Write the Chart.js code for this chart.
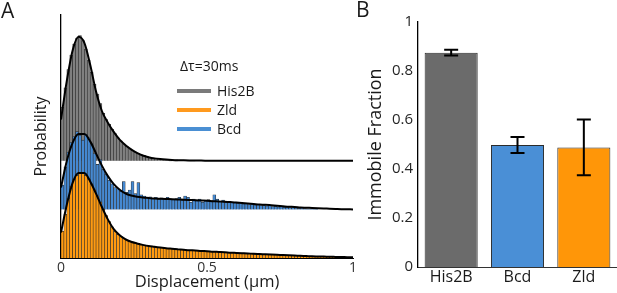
<!DOCTYPE html>
<html>
<head>
<meta charset="utf-8">
<script src="https://cdn.jsdelivr.net/npm/chart.js@4.4.0/dist/chart.umd.min.js"></script>
<style>
    body { margin: 0; width: 617px; height: 293px; overflow: hidden; background: #fff; font-family: 'Open Sans', sans-serif; color: #1a1a1a; }
    canvas { position: absolute; top: 0; }
    #chartA { left: 0; }
    #chartB { left: 330px; }
    .label { position: absolute; line-height: 1; white-space: nowrap; }
    .panel { font-size: 21px; }
    .legend-text { font-size: 14px; }
    .legend-line { position: absolute; width: 34px; height: 4px; }
</style>
</head>
<body>
<canvas id="chartA" width="365" height="293"></canvas>
<canvas id="chartB" width="287" height="293"></canvas>
<div class="label panel" style="left:1px;top:0px">A</div>
<div class="label panel" style="left:356px;top:-1px">B</div>
<div class="label legend-text" style="left:180px;top:59px">Δτ=30ms</div>
<div id="legend"></div>
<script>
// ---- panel A: displacement histograms (bin width 0.01 µm) ----
const binWidth = 0.01;
const fitStep = 0.02;
const xTicksA = [0, 0.5, 1];

const his2bHist = [
    2.2, 3.0, 3.75, 4.35, 4.8, 5.05, 5.15, 4.95, 4.6, 4.15,
    3.65, 3.15, 2.75, 2.35, 1.95, 1.7, 1.5, 1.3, 1.12, 0.95,
    0.82, 0.7, 0.6, 0.5, 0.43, 0.36, 0.3, 0.25, 0.21, 0.17,
    0.14, 0.12, 0.1, 0.085, 0.07, 0.06, 0.05, 0.045, 0.04, 0.035,
    0.03, 0.03, 0.025, 0.02, 0.02, 0.02, 0.015, 0.015, 0.01, 0.01,
    0.01, 0.01, 0.01, 0.01, 0.005, 0.005, 0, 0, 0, 0,
    0, 0, 0, 0, 0, 0, 0, 0, 0, 0,
    0, 0, 0, 0, 0, 0, 0, 0, 0, 0,
    0, 0, 0, 0, 0, 0, 0, 0, 0, 0,
    0, 0, 0, 0, 0, 0, 0, 0, 0, 0
];
const bcdHist = [
    1.0, 1.75, 2.35, 2.75, 3.0, 3.2, 3.05, 2.85, 3.1, 2.95,
    2.7, 2.3, 1.85, 2.05, 1.65, 1.45, 1.2, 1.05, 0.9, 0.85,
    0.75, 1.15, 0.7, 0.8, 1.15, 0.65, 1.1, 0.6, 0.55, 0.5,
    0.52, 0.45, 0.5, 0.42, 0.48, 0.45, 0.5, 0.43, 0.4, 0.45,
    0.5, 0.38, 0.55, 0.5, 0.3, 0.42, 0.35, 0.42, 0.3, 0.38,
    0.4, 0.36, 0.6, 0.42, 0.33, 0.38, 0.3, 0.32, 0.28, 0.3,
    0.25, 0.28, 0.22, 0.24, 0.2, 0.22, 0.18, 0.2, 0.16, 0.17,
    0.14, 0.16, 0.12, 0.13, 0.1, 0.12, 0.09, 0.1, 0.07, 0.08,
    0.06, 0.05, 0.08, 0.03, 0.02, 0.02, 0.01, 0.01, 0, 0,
    0, 0, 0, 0, 0, 0, 0, 0, 0, 0
];
const zldHist = [
    1.1, 1.8, 2.45, 2.95, 3.25, 3.4, 3.5, 3.5, 3.4, 3.25,
    3.05, 2.8, 2.55, 2.3, 2.0, 1.75, 1.5, 1.28, 1.1, 0.97,
    0.88, 0.8, 0.74, 0.69, 0.66, 0.62, 0.6, 0.56, 0.53, 0.5,
    0.48, 0.47, 0.45, 0.43, 0.42, 0.4, 0.39, 0.38, 0.37, 0.36,
    0.35, 0.34, 0.33, 0.33, 0.32, 0.31, 0.3, 0.3, 0.29, 0.28,
    0.28, 0.27, 0.26, 0.26, 0.25, 0.24, 0.24, 0.23, 0.22, 0.22,
    0.21, 0.2, 0.2, 0.19, 0.18, 0.18, 0.17, 0.16, 0.16, 0.15,
    0.15, 0.14, 0.14, 0.13, 0.13, 0.12, 0.12, 0.11, 0.11, 0.1,
    0.1, 0.09, 0.09, 0.08, 0.08, 0.07, 0.07, 0.07, 0.06, 0.06,
    0.06, 0.05, 0.05, 0.05, 0.04, 0.04, 0.04, 0.03, 0.03, 0.03
];

// fitted curves, one value every 0.02 µm from 0 to 1
const his2bFit = [
    1.7, 3.3, 4.55, 5.1, 4.85, 3.95, 2.85, 2.05, 1.58, 1.2,
    0.88, 0.65, 0.47, 0.33, 0.22, 0.15, 0.1, 0.07, 0.05, 0.035,
    0.025, 0.02, 0.015, 0.01, 0.01, 0.005, 0, 0, 0, 0,
    0, 0, 0, 0, 0, 0, 0, 0, 0, 0,
    0, 0, 0, 0, 0, 0, 0, 0, 0, 0, 0
];
const bcdFit = [
    0.9, 2.0, 2.75, 3.1, 3.1, 2.8, 2.3, 1.8, 1.38, 1.05,
    0.82, 0.66, 0.57, 0.52, 0.49, 0.47, 0.45, 0.44, 0.43, 0.42,
    0.41, 0.4, 0.39, 0.38, 0.37, 0.36, 0.34, 0.33, 0.31, 0.3,
    0.28, 0.26, 0.24, 0.22, 0.2, 0.19, 0.17, 0.15, 0.13, 0.11,
    0.1, 0.08, 0.07, 0.06, 0.05, 0.04, 0.03, 0.02, 0.01, 0.005, 0
];
const zldFit = [
    1.05, 2.2, 3.1, 3.5, 3.5, 3.15, 2.65, 2.1, 1.6, 1.2,
    0.95, 0.78, 0.67, 0.6, 0.54, 0.49, 0.46, 0.43, 0.4, 0.38,
    0.36, 0.34, 0.32, 0.31, 0.29, 0.28, 0.26, 0.25, 0.24, 0.22,
    0.21, 0.2, 0.19, 0.17, 0.16, 0.15, 0.14, 0.13, 0.12, 0.11,
    0.1, 0.09, 0.08, 0.07, 0.065, 0.06, 0.05, 0.045, 0.04, 0.035, 0.03
];

// vertical offsets of the stacked histograms
const his2bOffset = 4;
const bcdOffset = 2;
const zldOffset = 0;

const legendNames = ['His2B', 'Zld', 'Bcd'];
const legendColors = ['#7a7a7a', '#ff9a1e', '#4a8fd3'];

// ---- panel B: immobile fraction ----
const barCategories = ['His2B', 'Bcd', 'Zld'];
const immobileFraction = [0.875, 0.498, 0.488];
const immobileError = [0.012, 0.033, 0.114];
const barColors = ['#6b6b6b', '#4a8fd6', '#ff9608'];
const yTicksB = [0, 0.2, 0.4, 0.6, 0.8, 1];

Chart.defaults.font.family = "'Open Sans', sans-serif";
Chart.defaults.color = '#1a1a1a';

// legend (HTML, lines + names)
const legendEl = document.getElementById('legend');
legendNames.forEach((name, i) => {
    const top = 89 + i * 19;
    const line = document.createElement('div');
    line.className = 'legend-line';
    line.style.left = '177px';
    line.style.top = top + 'px';
    line.style.background = legendColors[i];
    legendEl.appendChild(line);
    const txt = document.createElement('div');
    txt.className = 'label legend-text';
    txt.style.left = '217px';
    txt.style.top = (top - 5) + 'px';
    txt.textContent = name;
    legendEl.appendChild(txt);
});

const histData = (values, offset) => values
    .map((v, i) => ({ x: (i + 0.5) * binWidth, y: [offset, offset + v], v }))
    .filter(p => p.v > 0);
const fitData = (values, offset) => values.map((v, i) => ({ x: i * fitStep, y: offset + v }));

const histSet = (values, offset, color, order) => ({
    type: 'bar',
    data: histData(values, offset),
    backgroundColor: color,
    borderColor: '#2a2a2a',
    borderWidth: 0.6,
    barPercentage: 1,
    categoryPercentage: 1,
    grouped: false,
    order: order
});
const fitSet = (values, offset, order) => ({
    type: 'line',
    data: fitData(values, offset),
    borderColor: '#000',
    borderWidth: 2,
    pointRadius: 0,
    cubicInterpolationMode: 'monotone',
    fill: false,
    order: order
});

new Chart(document.getElementById('chartA').getContext('2d'), {
    type: 'bar',
    data: {
        datasets: [
            histSet(his2bHist, his2bOffset, '#808080', 5),
            fitSet(his2bFit, his2bOffset, 4),
            histSet(bcdHist, bcdOffset, '#4589d2', 3),
            fitSet(bcdFit, bcdOffset, 2),
            histSet(zldHist, zldOffset, '#ff9a10', 1),
            fitSet(zldFit, zldOffset, 0)
        ]
    },
    options: {
        responsive: false,
        animation: false,
        layout: { padding: { top: 15, right: 12, bottom: 0, left: 0 } },
        plugins: { legend: { display: false }, tooltip: { enabled: false } },
        scales: {
            x: {
                type: 'linear',
                offset: false,
                min: 0,
                max: 1,
                grid: { display: false, drawTicks: false },
                border: { display: true, color: '#000', width: 1 },
                ticks: { font: { size: 14 }, padding: 2, color: '#333', callback: v => String(v) },
                afterBuildTicks: s => { s.ticks = xTicksA.map(v => ({ value: v })); },
                afterFit: s => { s.height = 35; },
                title: { display: true, text: 'Displacement (μm)', font: { size: 16.5 }, padding: { top: 0, bottom: 1 } }
            },
            y: {
                min: 0,
                max: 10,
                grid: { display: false, drawTicks: false },
                border: { display: true, color: '#000', width: 1.3 },
                ticks: { display: false },
                afterFit: s => { s.width = 61; },
                title: { display: true, text: 'Probability', font: { size: 16 }, padding: { top: 32, bottom: 0 } }
            }
        }
    }
});

const errorBars = {
    id: 'errorBars',
    afterDatasetsDraw(chart) {
        const meta = chart.getDatasetMeta(0);
        const yScale = chart.scales.y;
        const ctx = chart.ctx;
        ctx.save();
        ctx.strokeStyle = '#000';
        ctx.lineWidth = 2;
        meta.data.forEach((bar, i) => {
            const top = yScale.getPixelForValue(immobileFraction[i] + immobileError[i]);
            const bottom = yScale.getPixelForValue(immobileFraction[i] - immobileError[i]);
            ctx.beginPath();
            ctx.moveTo(bar.x, top);
            ctx.lineTo(bar.x, bottom);
            ctx.moveTo(bar.x - 7, top);
            ctx.lineTo(bar.x + 7, top);
            ctx.moveTo(bar.x - 7, bottom);
            ctx.lineTo(bar.x + 7, bottom);
            ctx.stroke();
        });
        ctx.restore();
    }
};

new Chart(document.getElementById('chartB').getContext('2d'), {
    type: 'bar',
    data: {
        labels: barCategories,
        datasets: [{
            data: immobileFraction,
            backgroundColor: barColors,
            borderColor: '#2b2b2b',
            borderWidth: 1,
            barPercentage: 0.8,
            categoryPercentage: 1
        }]
    },
    plugins: [errorBars],
    options: {
        responsive: false,
        animation: false,
        layout: { padding: { top: 22, right: 0, bottom: 0, left: 0 } },
        plugins: { legend: { display: false }, tooltip: { enabled: false } },
        scales: {
            x: {
                grid: { display: false, drawTicks: false },
                border: { display: true, color: '#333', width: 1 },
                ticks: { font: { size: 16 }, padding: 1 },
                afterFit: s => { s.height = 26; }
            },
            y: {
                min: 0,
                max: 1,
                grid: { display: false, drawTicks: false },
                border: { display: true, color: '#000', width: 1.3 },
                ticks: { font: { size: 15 }, padding: 5, color: '#262626', callback: v => String(v) },
                afterBuildTicks: s => { s.ticks = yTicksB.map(v => ({ value: v })); },
                afterFit: s => { s.width = 88; },
                title: { display: true, text: 'Immobile Fraction', font: { size: 18 }, padding: { top: 35, bottom: 0 } }
            }
        }
    }
});
</script>
</body>
</html>
